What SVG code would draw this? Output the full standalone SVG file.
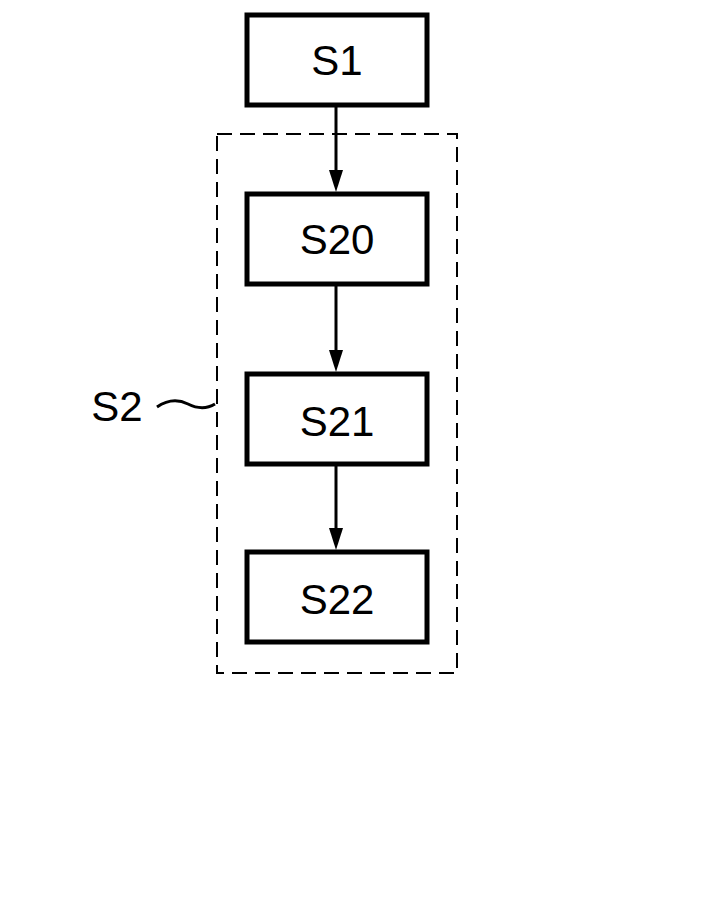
<svg xmlns="http://www.w3.org/2000/svg" width="712" height="921" viewBox="0 0 712 921">
<style>
.box{fill:#fff;stroke:#000;stroke-width:5}
.t{font-family:"Liberation Sans",Arial,sans-serif;font-size:42px;text-anchor:middle;fill:#000}
.c{stroke:#000;stroke-width:3;fill:none}
</style>
<defs><marker id="a" markerWidth="14" markerHeight="22" refX="7" refY="22" orient="auto-start-reverse" markerUnits="userSpaceOnUse" viewBox="0 0 14 22"><path d="M0,0 L14,0 L7,22 Z" fill="#000" transform="rotate(-90 7 11) translate(0 0)"/></marker></defs>
<rect width="712" height="921" fill="#fff"/>
<g id="S2"><rect x="217" y="134" width="240" height="539" fill="none" stroke="#000" stroke-width="2" stroke-dasharray="15,8"/>
<text class="t" x="117" y="421">S2</text>
<path class="c" stroke-width="2" d="M157,407 C170,398 180,400 188,404 C196,408 205,410 215,404"/></g>
<g id="connectors">
<line class="c" x1="336" y1="107" x2="336" y2="172"/><path d="M329,170 L343,170 L336,192 Z"/>
<line class="c" x1="336" y1="286" x2="336" y2="352"/><path d="M329,350 L343,350 L336,372 Z"/>
<line class="c" x1="336" y1="466" x2="336" y2="530"/><path d="M329,528 L343,528 L336,550 Z"/>
</g>
<g id="S1"><rect class="box" x="247" y="15" width="180" height="90"/><text class="t" x="337" y="75">S1</text></g>
<g id="S20"><rect class="box" x="247" y="194" width="180" height="90"/><text class="t" x="337" y="254">S20</text></g>
<g id="S21"><rect class="box" x="247" y="374" width="180" height="90"/><text class="t" x="337" y="436">S21</text></g>
<g id="S22"><rect class="box" x="247" y="552" width="180" height="90"/><text class="t" x="337" y="614">S22</text></g>
</svg>
